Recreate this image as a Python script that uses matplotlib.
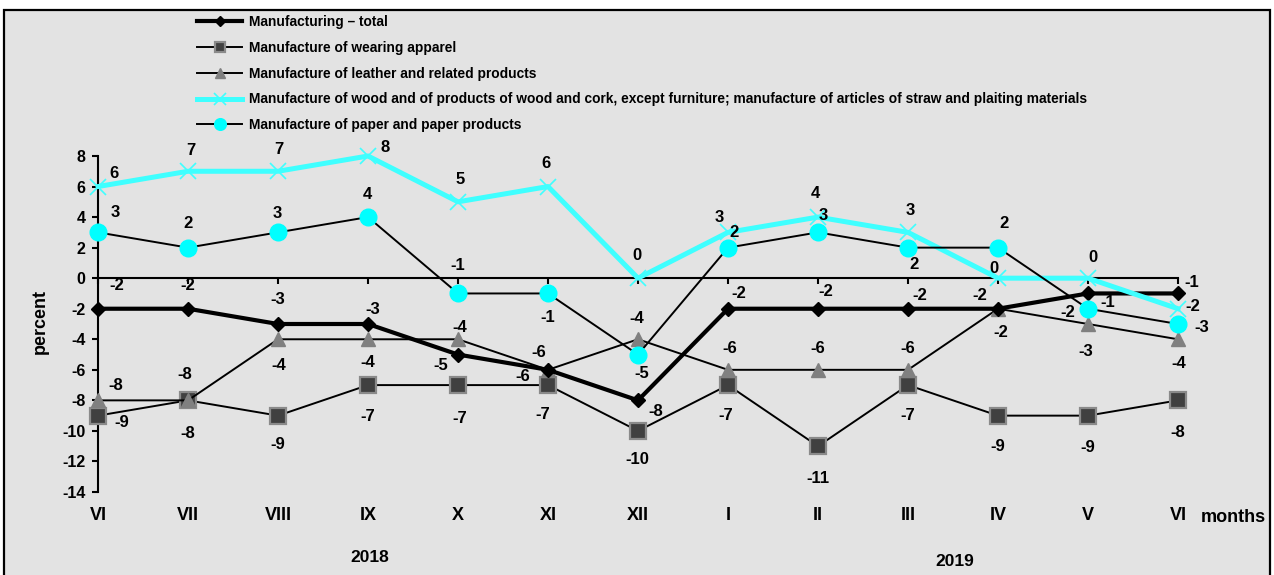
import matplotlib
matplotlib.use("Agg")
import matplotlib.pyplot as plt
from matplotlib.patches import Rectangle

# ---- data ----
months = ["VI", "VII", "VIII", "IX", "X", "XI", "XII", "I", "II", "III", "IV", "V", "VI"]
years = ["2018", "2019"]
total = [-2, -2, -3, -3, -5, -6, -8, -2, -2, -2, -2, -1, -1]
apparel = [-9, -8, -9, -7, -7, -7, -10, -7, -11, -7, -9, -9, -8]
leather = [-8, -8, -4, -4, -4, -6, -4, -6, -6, -6, -2, -3, -4]
wood = [6, 7, 7, 8, 5, 6, 0, 3, 4, 3, 0, 0, -2]
paper = [3, 2, 3, 4, -1, -1, -5, 2, 3, 2, 2, -2, -3]
names = [
    "Manufacturing \u2013 total",
    "Manufacture of wearing apparel",
    "Manufacture of leather and related products",
    "Manufacture of wood and of products of wood and cork, except furniture; manufacture of articles of straw and plaiting materials",
    "Manufacture of paper and paper products",
]
yticks = list(range(-14, 9, 2))

# ---- label offsets (pixels; positive dy = up) ----
off_total = [(19, 23), (0, 23), (0, 24), (5, 15), (-17, -11), (-25, -7), (18, -11),
             (11, 15), (8, 17), (12, 13), (-18, 13), (20, -9), (14, 11)]
off_apparel = [(24, -7), (0, -33), (0, -29), (0, -31), (2, -33), (-5, -29), (-1, -29),
               (-2, -30), (0, -32), (0, -30), (0, -31), (0, -32), (0, -32)]
off_leather = [(18, 15), (-3, 26), (1, -26), (0, -23), (2, 12), (-9, 17), (-1, 21),
               (2, 21), (0, 21), (0, 21), (3, -24), (-2, -27), (1, -24)]
off_wood = [(16, 13), (3, 21), (1, 22), (17, 9), (2, 22), (-2, 23), (-1, 23),
            (-9, 15), (-3, 24), (2, 22), (-4, 10), (5, 21), (15, 2)]
off_paper = [(17, 20), (0, 24), (-1, 19), (-1, 23), (0, 28), (0, -24), (4, -19),
             (6, 15), (5, 17), (6, -17), (6, 24), (-20, -4), (24, -3)]

W, H = 1274, 575
BG = "#E3E3E3"
CYAN_LINE = "#3FFFFF"
CYAN = "#00FFFF"
FONT = ["Liberation Sans", "DejaVu Sans"]
NARROW = ["Liberation Sans Narrow", "Liberation Sans", "DejaVu Sans"]

plt.rcParams["font.family"] = FONT
plt.rcParams["font.weight"] = "bold"

fig = plt.figure(figsize=(W / 100, H / 100), dpi=100)
fig.patch.set_facecolor("white")
fig.patches.append(Rectangle((4 / W, -10 / H), 1266 / W, H / H,
                             transform=fig.transFigure, facecolor=BG,
                             edgecolor="black", linewidth=1.6, zorder=-5))

x0, x1 = 98, 1178
y_top, y_bot = 156, 492
ax = fig.add_axes([x0 / W, 1 - y_bot / H, (x1 - x0) / W, (y_bot - y_top) / H])
ax.set_zorder(1)
ax.set_facecolor("none")
ax.set_xlim(0, 12)
ax.set_ylim(-14, 8)
x = list(range(len(months)))

series = [
    (total, dict(color="black", lw=3.0, marker="D", ms=7.6, mfc="black", mec="black"), off_total, 5),
    (apparel, dict(color="black", lw=1.4, marker="s", ms=11, mfc="#404040", mec="#8A8A8A", mew=1.6), off_apparel, 3),
    (leather, dict(color="black", lw=1.4, marker="^", ms=10.5, mfc="#808080", mec="#808080"), off_leather, 4),
    (wood, dict(color=CYAN_LINE, lw=3.6, marker="x", ms=12, mfc=CYAN_LINE, mec=CYAN_LINE, mew=1.2), off_wood, 6),
    (paper, dict(color="black", lw=1.4, marker="o", ms=12, mfc=CYAN, mec=CYAN), off_paper, 7),
]
handles = []
for (vals, style, offs, z), name in zip(series, names):
    h, = ax.plot(x, vals, clip_on=False, zorder=z, label=name, **style)
    handles.append(h)
    for xi, v, (dx, dy) in zip(x, vals, offs):
        ax.annotate(str(v), (xi, v), xytext=(dx, dy), textcoords="offset pixels",
                    ha="center", va="center", fontsize=12, fontweight="bold",
                    zorder=10, annotation_clip=False)

# axes styling
for s in ("top", "right"):
    ax.spines[s].set_visible(False)
ax.spines["left"].set_linewidth(1.5)
ax.spines["bottom"].set_position(("data", 0))
ax.spines["bottom"].set_linewidth(1.5)
ax.spines["bottom"].set_zorder(2)
ax.set_yticks(yticks)
ax.set_yticklabels([str(t) for t in yticks])
ax.tick_params(axis="y", direction="out", length=4, width=1.5, pad=5, labelsize=11.5)
ax.set_xticks(x)
ax.set_xticklabels(months)
ax.tick_params(axis="x", direction="out", length=4, width=1.5, pad=161, labelsize=13)
for lab in ax.get_xticklabels() + ax.get_yticklabels():
    lab.set_fontweight("bold")

fig.text(40 / W, 1 - 322 / H, "percent", rotation=90, ha="center", va="center",
         fontsize=13, fontweight="bold")
fig.text(1233 / W, 1 - 518 / H, "months", ha="center", va="center",
         fontsize=13, fontweight="bold")
fig.text(370 / W, 1 - 557 / H, years[0], ha="center", va="center",
         fontsize=12.5, fontweight="bold")
fig.text(955 / W, 1 - 561 / H, years[1], ha="center", va="center",
         fontsize=12.5, fontweight="bold")

leg = fig.legend(handles=handles, loc="upper left",
                 bbox_to_anchor=(197 / W, 1 - 15 / H), bbox_transform=fig.transFigure,
                 frameon=False, borderpad=0, borderaxespad=0, numpoints=1,
                 handlelength=3.3, handletextpad=0.45, labelspacing=0.86,
                 markerscale=0.7, prop=dict(family=NARROW, size=9.9, weight="bold"))

fig.savefig("out.png", dpi=100, facecolor="white")
